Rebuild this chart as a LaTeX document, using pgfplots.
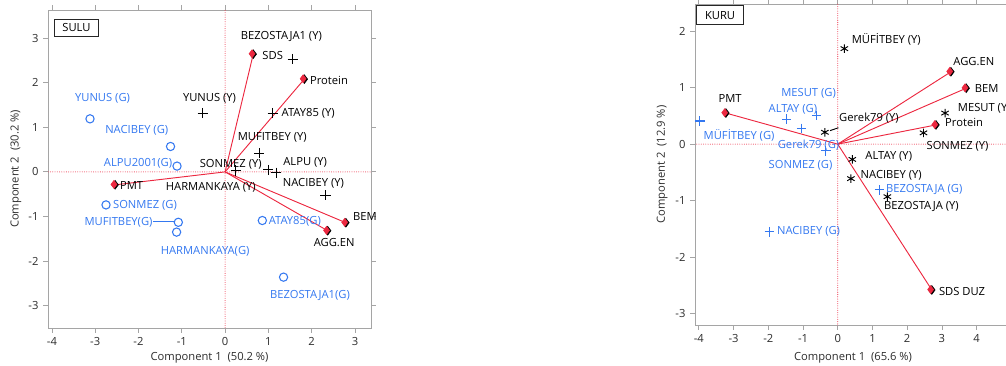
\documentclass[border=0pt]{standalone}
\usepackage{fontspec}
\setmainfont{Open Sans}
\usepackage{pgfplots}
\pgfplotsset{compat=1.18}
\usepackage{pgfplotstable}
\definecolor{jblue}{RGB}{52,120,240}
\definecolor{jred}{RGB}{236,40,64}
\definecolor{framegray}{RGB}{165,165,165}
\definecolor{ticktext}{RGB}{45,45,45}
\newcommand\fs{\fontsize{8.4}{10}\selectfont}

% ---------- SULU ----------
\pgfplotstableread[col sep=comma]{
x,y,lx,ly,label
0.65,2.64,1.10,2.61,SDS
1.83,2.08,2.40,2.06,Protein
-2.54,-0.29,-2.16,-0.31,PMT
2.79,-1.14,3.23,-0.99,BEM
2.37,-1.32,2.52,-1.59,AGG.EN
}\sulvec
\pgfplotstableread[col sep=comma]{
x,y,lx,ly,label
1.56,2.53,1.30,3.03,BEZOSTAJA1 (Y)
-0.52,1.32,-0.36,1.66,YUNUS (Y)
1.10,1.32,1.92,1.32,ATAY85 (Y)
0.79,0.42,1.09,0.78,MUFITBEY (Y)
0.25,0.03,0.13,0.18,SONMEZ (Y)
1.00,0.045,1.85,0.22,ALPU (Y)
1.18,-0.02,-0.33,-0.34,HARMANKAYA (Y)
2.32,-0.52,2.04,-0.25,NACIBEY (Y)
}\sulY
\pgfplotstableread[col sep=comma]{
x,y,lx,ly,label
-3.12,1.19,-2.83,1.64,YUNUS (G)
-1.26,0.57,-2.04,0.94,NACIBEY (G)
-1.11,0.13,-2.01,0.20,ALPU2001(G)
-2.75,-0.74,-1.85,-0.76,SONMEZ (G)
-1.08,-1.13,-2.46,-1.12,MUFITBEY(G)
-1.12,-1.35,-0.46,-1.79,HARMANKAYA(G)
0.86,-1.09,1.61,-1.10,ATAY85(G)
1.35,-2.36,1.96,-2.78,BEZOSTAJA1(G)
}\sulG

% ---------- KURU ----------
\pgfplotstableread[col sep=comma]{
x,y,lx,ly,label
-3.22,0.55,-3.10,0.81,PMT
3.26,1.28,3.92,1.47,AGG.EN
3.70,0.99,4.29,0.99,BEM
2.83,0.34,3.64,0.39,Protein
2.71,-2.58,3.58,-2.60,SDS DUZ
}\kurvec
\pgfplotstableread[col sep=comma]{
x,y,lx,ly,label
0.19,1.69,1.40,1.85,MÜFİTBEY (Y)
3.09,0.55,4.22,0.64,MESUT (Y)
2.47,0.20,3.45,-0.035,SONMEZ (Y)
-0.37,0.21,0.90,0.46,Gerek79 (Y)
0.42,-0.27,1.47,-0.21,ALTAY (Y)
0.38,-0.61,1.54,-0.55,NACIBEY (Y)
1.43,-0.93,2.41,-1.11,BEZOSTAJA (Y)
}\kurY
\pgfplotstableread[col sep=comma]{
x,y,lx,ly,label
-3.97,0.41,-2.84,0.16,MÜFİTBEY (G)
-0.61,0.51,-0.84,0.90,MESUT (G)
-1.47,0.44,-1.29,0.62,ALTAY (G)
-1.04,0.28,-0.84,-0.02,Gerek79 (G)
-0.34,-0.12,-1.07,-0.37,SONMEZ (G)
1.20,-0.81,2.49,-0.81,BEZOSTAJA (G)
-1.97,-1.55,-0.84,-1.55,NACIBEY (G)
}\kurG

\pgfplotsset{
  biplot/.style={
    scale only axis, anchor=south west,
    tick align=outside, major tick length=3.6pt,
    axis line style={framegray, line width=0.7pt},
    tick style={framegray, line width=0.6pt},
    tick label style={font=\fs, text=ticktext},
    label style={font=\fs, text=ticktext},
  },
  lbl/.style={only marks, mark=none, nodes near coords, point meta=explicit symbolic,
    every node near coord/.append style={anchor=center, inner sep=0pt, font=\fs, text=#1}},
  refl/.style={draw=jred!85, line width=0.8pt, line cap=round, dash pattern=on 0pt off 1.7pt},
  vec/.style={color=jred, line width=0.7pt},
}

\begin{document}
\begin{tikzpicture}
\useasboundingbox (0,0) rectangle (754.5pt,273.75pt);
\clip (0,0) rectangle (754.5pt,273.75pt);
% ================= SULU =================
\begin{axis}[biplot,
  at={(36pt,27.75pt)}, width=242.25pt, height=238.5pt,
  xmin=-4.09, xmax=3.37, ymin=-3.5, ymax=3.63,
  xtick={-4,...,3}, xticklabels={-4,-3,-2,-1,0,1,2,3},
  ytick={-3,...,3}, yticklabels={-3,-2,-1,0,1,2,3},
  xlabel={Component 1\ \ (50.2 \%)}, ylabel={Component 2\ \ (30.2 \%)},
  xlabel style={at={(axis description cs:0.5,-0.094)}, anchor=center},
  ylabel style={at={(axis description cs:-0.099,0.5)}, anchor=center},
]
\addplot[refl] coordinates {(0,-10) (0,10)};
\addplot[refl] coordinates {(-10,0) (10,0)};
\addplot[vec] coordinates {(0,0) (0.65,2.64)};
\addplot[vec] coordinates {(0,0) (1.83,2.08)};
\addplot[vec] coordinates {(0,0) (-2.54,-0.29)};
\addplot[vec] coordinates {(0,0) (2.79,-1.14)};
\addplot[vec] coordinates {(0,0) (2.37,-1.32)};
\addplot[jblue, line width=0.8pt] coordinates {(-1.66,-1.12) (-1.15,-1.12)};
\addplot[only marks, mark=diamond*, mark size=3.3pt, mark options={fill=black, draw=black}] table[x=x,y=y] {\sulvec};
\addplot[only marks, mark=diamond*, mark size=3.0pt, mark options={fill=jred, draw=jred, xshift=-0.9pt, yshift=0.3pt}] table[x=x,y=y] {\sulvec};
\addplot[only marks, mark=+, mark size=3.8pt, black, line width=0.75pt] table[x=x,y=y] {\sulY};
\addplot[only marks, mark=o, mark size=3.1pt, jblue, line width=0.8pt] table[x=x,y=y] {\sulG};
\addplot[lbl=black] table[x=lx,y=ly,meta=label] {\sulvec};
\addplot[lbl=black] table[x=lx,y=ly,meta=label] {\sulY};
\addplot[lbl=jblue] table[x=lx,y=ly,meta=label] {\sulG};
\node[draw=black!85, line width=0.7pt, fill=white, anchor=north west, minimum width=32.5pt, minimum height=12.3pt, inner sep=0pt, font=\fs, text=black] at (rel axis cs:0.0195,0.971) {SULU};
\end{axis}
% ================= KURU =================
\begin{axis}[biplot,
  at={(521.25pt,30pt)}, width=237pt, height=240.75pt,
  xmin=-4.11, xmax=4.99, ymin=-3.2, ymax=2.48,
  xtick={-4,...,4}, xticklabels={-4,-3,-2,-1,0,1,2,3,4},
  ytick={-3,...,2}, yticklabels={-3,-2,-1,0,1,2},
  xlabel={Component 1\ \ (65.6 \%)}, ylabel={Component 2\ \ (12.9 \%)},
  xlabel style={at={(axis description cs:0.5,-0.103)}, anchor=center},
  ylabel style={at={(axis description cs:-0.104,0.5)}, anchor=center},
]
\addplot[refl] coordinates {(0,-10) (0,10)};
\addplot[refl] coordinates {(-10,0) (10,0)};
\addplot[vec] coordinates {(0,0) (-3.22,0.55)};
\addplot[vec] coordinates {(0,0) (3.26,1.28)};
\addplot[vec] coordinates {(0,0) (3.70,0.99)};
\addplot[vec] coordinates {(0,0) (2.83,0.34)};
\addplot[vec] coordinates {(0,0) (2.71,-2.58)};
\addplot[black, line width=0.7pt] coordinates {(-0.22,0.24) (0.02,0.29)};
\addplot[only marks, mark=diamond*, mark size=3.3pt, mark options={fill=black, draw=black}] table[x=x,y=y] {\kurvec};
\addplot[only marks, mark=diamond*, mark size=3.0pt, mark options={fill=jred, draw=jred, xshift=-0.9pt, yshift=0.3pt}] table[x=x,y=y] {\kurvec};
\addplot[only marks, mark=asterisk, mark size=3.2pt, black, line width=0.7pt] table[x=x,y=y] {\kurY};
\addplot[only marks, mark=+, mark size=3.6pt, jblue, line width=0.8pt] table[x=x,y=y] {\kurG};
\addplot[lbl=black] table[x=lx,y=ly,meta=label] {\kurvec};
\addplot[lbl=black] table[x=lx,y=ly,meta=label] {\kurY};
\addplot[lbl=jblue] table[x=lx,y=ly,meta=label] {\kurG};
\node[draw=black!85, line width=0.7pt, fill=white, anchor=north west, minimum width=35pt, minimum height=14pt, inner sep=0pt, font=\fs, text=black] at (rel axis cs:0.004,0.996) {KURU};
\end{axis}
\end{tikzpicture}
\end{document}
